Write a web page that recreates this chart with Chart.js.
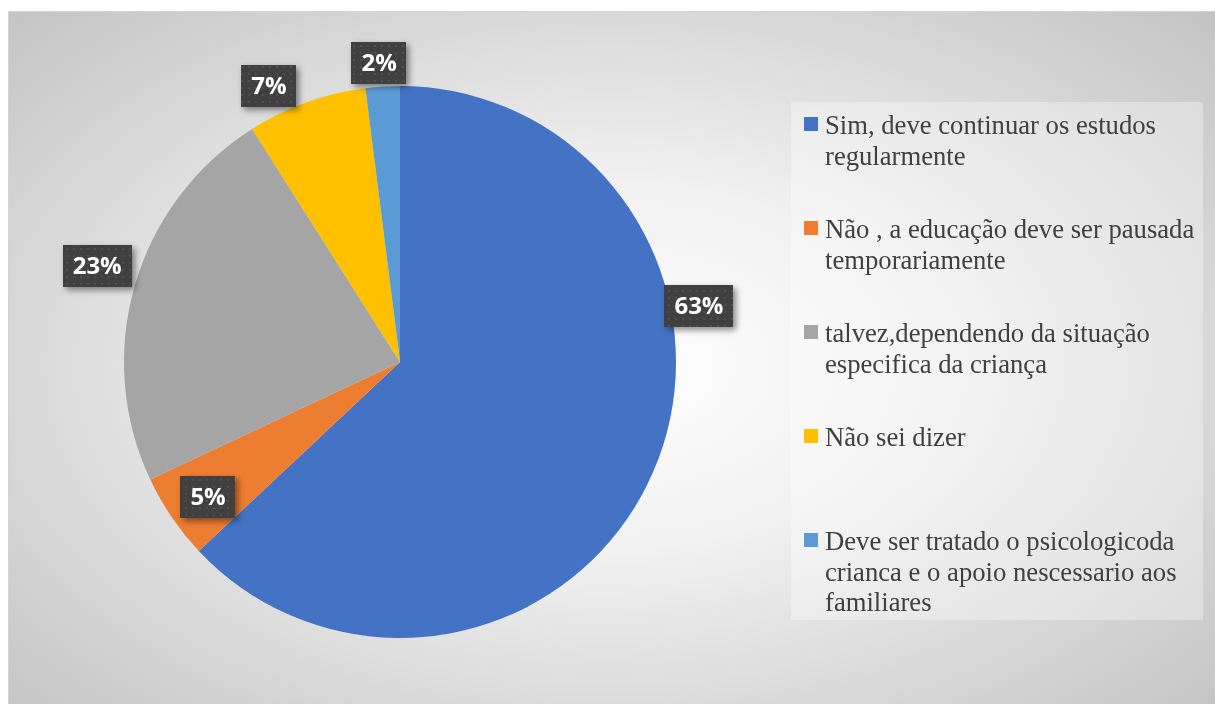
<!DOCTYPE html>
<html>
<head>
<meta charset="utf-8">
<script src="https://cdn.jsdelivr.net/npm/chart.js@4.4.1/dist/chart.umd.min.js"></script>
<style>
    html, body { margin: 0; padding: 0; background: #ffffff; }
    body { width: 1215px; height: 704px; overflow: hidden; position: relative; }
    #frame {
        position: absolute; left: 8px; top: 11px; width: 1212px; height: 700px;
        border: 1px solid #d4d4d4; box-sizing: border-box;
        background: radial-gradient(ellipse 860px 520px at 600px 355px, #ffffff 0%, #f1f1f1 35%, #d6d6d6 72%, #c2c2c2 100%);
    }
    #pie { position: absolute; left: 0; top: 0; }
    #legend {
        position: absolute; left: 791px; top: 102px; width: 412px; height: 518px;
        background: rgba(255, 255, 255, 0.32);
        font-family: "Liberation Serif", "Times New Roman", serif;
        font-size: 26.67px; line-height: 30.67px; color: #404040;
    }
    .item { position: absolute; left: 13px; width: 390px; }
    .swatch { position: absolute; left: 0; top: 7px; width: 14px; height: 14px; }
    .label { position: absolute; left: 21px; width: 376px; }
</style>
</head>
<body>
<div id="frame"></div>
<canvas id="pie" width="1215" height="704"></canvas>
<div id="legend"></div>
<script>
document.addEventListener('DOMContentLoaded', () => {
    // Data
    const categories = [
        'Sim, deve continuar os estudos regularmente',
        'Não , a educação deve ser pausada temporariamente',
        'talvez,dependendo da situação especifica da criança',
        'Não sei dizer',
        'Deve ser tratado o psicologicoda crianca e o apoio nescessario aos familiares'
    ];
    const responses = [63, 5, 23, 7, 2];
    const sliceColors = ['#4472C4', '#ED7D31', '#A5A5A5', '#FFC000', '#5B9BD5'];

    // Where each percentage box sits: angle shift (deg) from slice middle, distance as share of radius
    const labelPlacement = [
        { shift: -34.0, dist: 1.102 },
        { shift: -0.9, dist: 0.850 },
        { shift: 1.4, dist: 1.151 },
        { shift: -5.6, dist: 1.107 },
        { shift: -0.4, dist: 1.086 }
    ];

    // Dark dotted fill for the value boxes
    function dotPattern(ctx) {
        const tile = document.createElement('canvas');
        tile.width = 7; tile.height = 7;
        const t = tile.getContext('2d');
        t.fillStyle = '#404040';
        t.fillRect(0, 0, 7, 7);
        t.fillStyle = '#4f4f4f';
        t.fillRect(3, 3, 2, 2);
        return ctx.createPattern(tile, 'repeat');
    }

    const valueBoxes = {
        id: 'valueBoxes',
        afterDatasetsDraw(chart) {
            const ctx = chart.ctx;
            const meta = chart.getDatasetMeta(0);
            const data = chart.data.datasets[0].data;
            const total = data.reduce((a, b) => a + b, 0);
            const fill = dotPattern(ctx);
            ctx.save();
            ctx.font = 'bold 24px "Open Sans", sans-serif';
            ctx.textAlign = 'center';
            ctx.textBaseline = 'middle';
            meta.data.forEach((arc, i) => {
                const p = arc.getProps(['x', 'y', 'startAngle', 'endAngle', 'outerRadius'], true);
                const place = labelPlacement[i];
                const a = (p.startAngle + p.endAngle) / 2 + place.shift * Math.PI / 180;
                const cx = p.x + Math.cos(a) * p.outerRadius * place.dist;
                const cy = p.y + Math.sin(a) * p.outerRadius * place.dist;
                const text = Math.round(data[i] / total * 100) + '%';
                const w = ctx.measureText(text).width + 20;
                const h = 42;
                ctx.save();
                ctx.shadowColor = 'rgba(0, 0, 0, 0.45)';
                ctx.shadowBlur = 6;
                ctx.shadowOffsetX = 3;
                ctx.shadowOffsetY = 3;
                ctx.fillStyle = fill;
                ctx.fillRect(Math.round(cx - w / 2), Math.round(cy - h / 2), Math.round(w), h);
                ctx.restore();
                ctx.fillStyle = '#ffffff';
                ctx.fillText(text, cx, cy + 1);
            });
            ctx.restore();
        }
    };

    new Chart(document.getElementById('pie'), {
        type: 'pie',
        data: {
            labels: categories,
            datasets: [{
                data: responses,
                backgroundColor: sliceColors,
                borderWidth: 0
            }]
        },
        options: {
            responsive: false,
            animation: false,
            devicePixelRatio: 1,
            layout: { padding: { left: 124, top: 86, right: 539, bottom: 66 } },
            plugins: { legend: { display: false }, tooltip: { enabled: false } }
        },
        plugins: [valueBoxes]
    });

    // Legend on the right
    const legend = document.getElementById('legend');
    categories.forEach((name, i) => {
        const item = document.createElement('div');
        item.className = 'item';
        item.style.top = (8 + i * 104) + 'px';
        item.innerHTML = `<span class="swatch" style="background:${sliceColors[i]}"></span><span class="label">${name}</span>`;
        legend.appendChild(item);
    });
});
</script>
</body>
</html>
